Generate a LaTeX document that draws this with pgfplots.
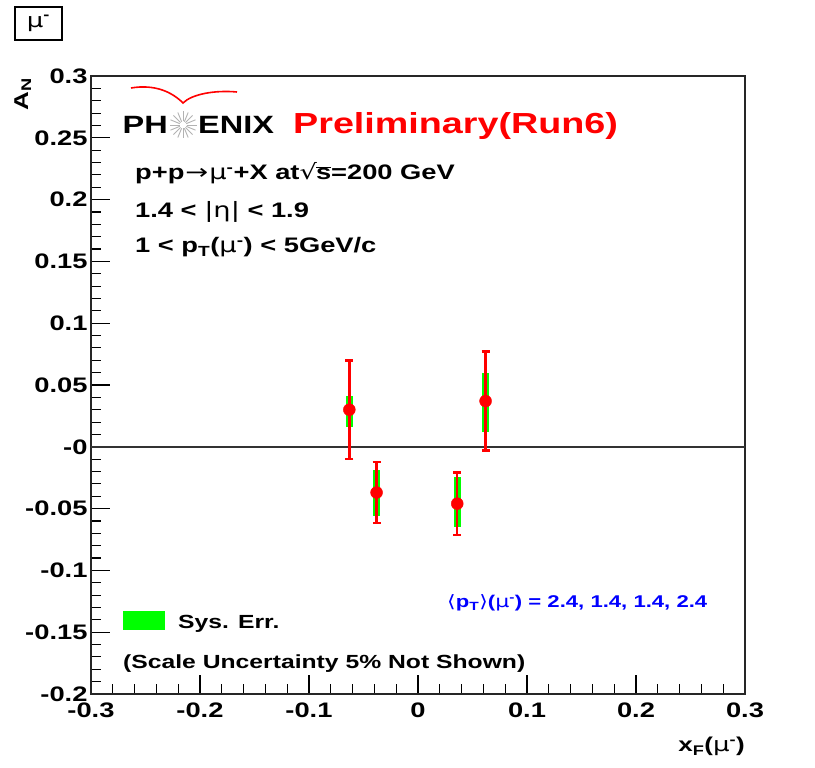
\documentclass[border=0pt]{standalone}
\usepackage{pgfplots}
\pgfplotsset{compat=1.18}
\usepackage{fontspec}
\setmainfont{Liberation Sans Bold}[FakeStretch=1.3]
\newfontfamily\dv{DejaVu Sans}[FakeStretch=1.3]
\definecolor{rgreen}{RGB}{0,255,0}
\newcommand\fs[1]{\fontsize{#1}{#1}\selectfont}
\begin{document}
\begin{tikzpicture}
\path[use as bounding box] (0,0) rectangle (815pt,768pt);
\begin{axis}[
  at={(91pt,74pt)}, anchor=south west,
  width=654pt, height=618pt, scale only axis,
  xmin=-0.3, xmax=0.3, ymin=-0.2, ymax=0.3,
  xtick={-0.3,-0.2,-0.1,0,0.1,0.2,0.3},
  xticklabels={-0.3,-0.2,-0.1,0,0.1,0.2,0.3},
  ytick={-0.2,-0.15,-0.1,-0.05,0,0.05,0.1,0.15,0.2,0.25,0.3},
  yticklabels={-0.2,-0.15,-0.1,-0.05,-0,0.05,0.1,0.15,0.2,0.25,0.3},
  minor x tick num=4, minor y tick num=4,
  tick align=inside, xtick pos=bottom, ytick pos=left,
  major tick length=19pt, minor tick length=9.5pt,
  tick style={line width=1.1pt, black},
  axis line style={line width=1.4pt, black!85},
  ticklabel style={font=\fs{21}},
  xticklabel style={yshift=-5pt},
]
\addplot[forget plot, line width=1.8pt, black!80] coordinates {(-0.3,0) (0.3,0)};
\addplot[forget plot, draw=none, mark=none,
  error bars/.cd, y dir=both, y explicit,
  error bar style={draw=rgreen, line width=7pt}, error mark=none]
  coordinates {
  (-0.063,0.0285) +- (0,0.0125)
  (-0.038,-0.0374) +- (0,0.0186)
  (0.036,-0.0445) +- (0,0.0202)
  (0.062,0.036) +- (0,0.024)
  };
\addplot[forget plot, only marks, red, mark=*, mark size=6pt,
  mark options={fill=red, draw=red},
  error bars/.cd, y dir=both, y explicit,
  error bar style={draw=red, line width=2.5pt},
  error mark=-,
  error mark options={rotate=90, draw=red, line width=2.5pt, mark size=4pt}]
  coordinates {
  (-0.063,0.030) +- (0,0.040)
  (-0.038,-0.037) +- (0,0.0247)
  (0.036,-0.046) +- (0,0.0252)
  (0.062,0.037) +- (0,0.040)
  };
\end{axis}
\begin{scope}[x=1pt,y=1pt]
% mu- box
\draw[line width=1.3pt] (15,728) rectangle (62,761);
\node[font=\fs{20}] at (38.5,744.5) {{\dv μ}\textsuperscript{-}};
% axis titles
\node[rotate=90, anchor=base east, inner sep=0, font=\fs{20}] at (28,690) {A\textsubscript{N}};
\node[anchor=base east, inner sep=0, font=\fs{20}] at (745,16) {x\textsubscript{F}({\dv μ}\textsuperscript{-})};
% PHENIX logo
\draw[red, line width=1.6pt] (131,680) .. controls (155,684) and (172,676) .. (183,665) .. controls (192,674) and (215,678) .. (237,676);
\foreach \a in {0,22.5,...,337.5} \draw[gray!60, line width=0.9pt] (183,643) ++(\a:3.5) -- ++(\a:10);
\node[anchor=base east, inner sep=0, font=\fs{25}] at (168,634) {PH};
\node[anchor=base west, inner sep=0, font=\fs{25}] at (198,634) {ENIX};
\node[anchor=base west, inner sep=0, red, font=\fs{29}] at (293,634) {Preliminary(Run6)};
% info
\node[anchor=base west, inner sep=0, font=\fs{21}] at (135,588) {p+p{\dv \kern1pt→\kern1pt}{\dv μ}\textsuperscript{-}+X at{\dv √}\kern-1pt$\overline{\mbox{s}}$=200 GeV};
\node[anchor=base west, inner sep=0, font=\fs{21}] at (135,550) {1.4 < {\dv |η|} < 1.9};
\node[anchor=base west, inner sep=0, font=\fs{21}] at (135,515) {1 < p\textsubscript{T}({\dv μ}\textsuperscript{-}) < 5GeV/c};
% legend
\fill[rgreen] (123,138) rectangle (165,157);
\node[anchor=base west, inner sep=0, font=\fs{19}] at (178,139) {Sys. Err.};
\node[anchor=base west, inner sep=0, font=\fs{19}] at (123,99) {(Scale Uncertainty 5\% Not Shown)};
\node[anchor=base west, inner sep=0, blue, font=\fs{17}] at (447,160) {{\dv ⟨}p\textsubscript{T}{\dv ⟩}({\dv μ}\textsuperscript{-}) = 2.4, 1.4, 1.4, 2.4};
\end{scope}
\end{tikzpicture}
\end{document}
